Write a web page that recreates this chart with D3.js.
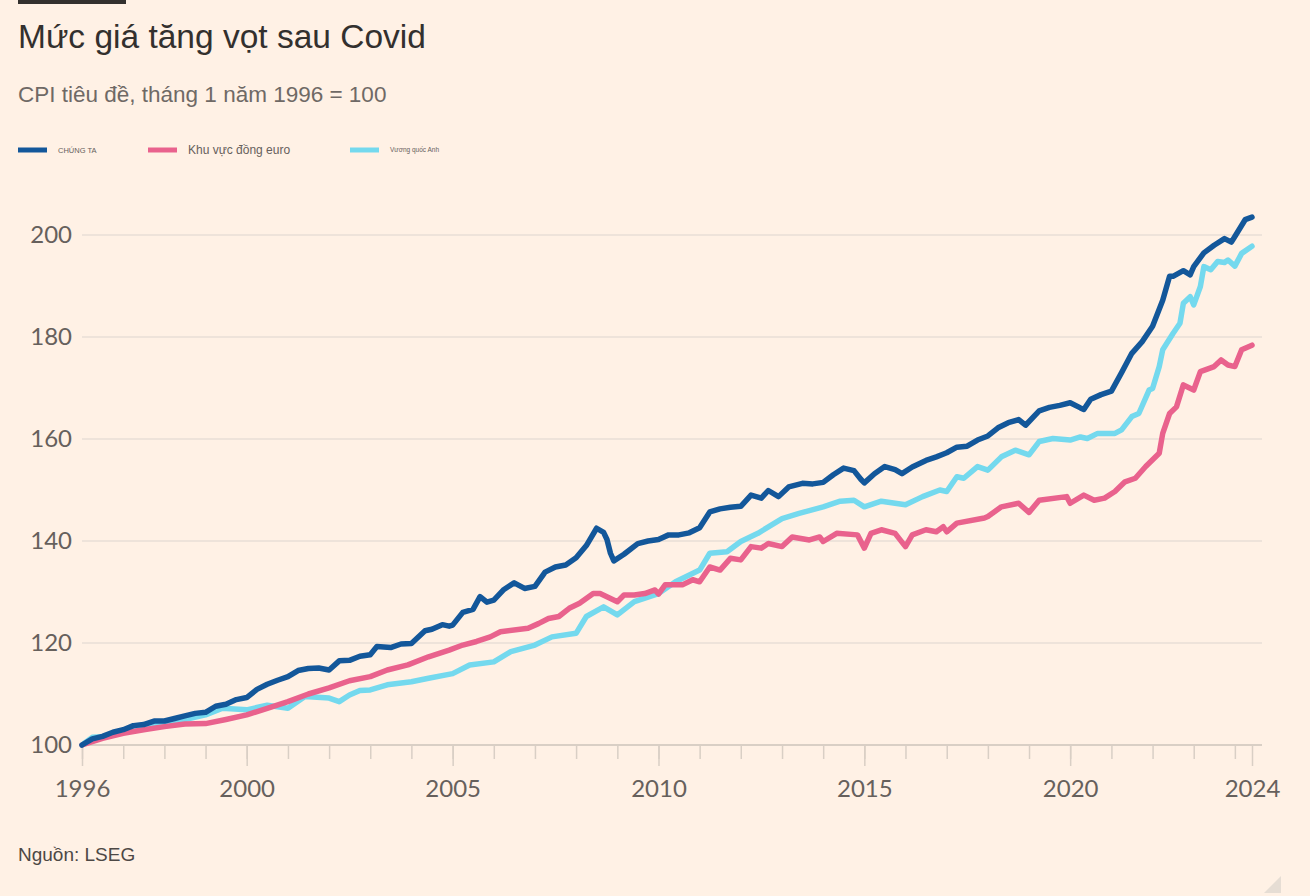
<!DOCTYPE html>
<html>
<head>
<meta charset="utf-8">
<script src="https://cdn.jsdelivr.net/npm/d3@7"></script>
<style>
  html, body { margin: 0; padding: 0; background: #fff1e5; }
  svg { display: block; }
</style>
</head>
<body>
<svg id="chart" width="1310" height="896"></svg>
<script>
// ---- Data ----
const seriesNames = ["CHÚNG TA", "Khu vực đồng euro", "Vương quốc Anh"];

const usDates = ["1996-01","1996-04","1996-07","1996-10","1997-01","1997-04","1997-07","1997-10",
  "1998-01","1998-04","1998-07","1998-10","1999-01","1999-04","1999-07","1999-10",
  "2000-01","2000-04","2000-07","2000-10","2001-01","2001-04","2001-07","2001-10",
  "2002-01","2002-04","2002-07","2002-10","2003-01","2003-03","2003-07","2003-10",
  "2004-01","2004-05","2004-07","2004-10","2004-12","2005-01","2005-04","2005-07","2005-09","2005-11",
  "2006-01","2006-04","2006-07","2006-10","2007-01","2007-04","2007-07","2007-10",
  "2008-01","2008-04","2008-07","2008-09","2008-10","2008-11","2008-12","2009-03","2009-07","2009-10",
  "2010-01","2010-04","2010-07","2010-10","2011-01","2011-04","2011-07","2011-10",
  "2012-01","2012-04","2012-07","2012-09","2012-12","2013-03","2013-07","2013-10",
  "2014-01","2014-04","2014-07","2014-10","2014-12","2015-01","2015-04","2015-07","2015-10","2015-12",
  "2016-03","2016-07","2016-10","2017-01","2017-04","2017-07","2017-10",
  "2018-01","2018-04","2018-07","2018-10","2018-12","2019-04","2019-07","2019-10",
  "2020-01","2020-04","2020-05","2020-07","2020-10","2021-01","2021-04","2021-07","2021-10",
  "2022-01","2022-04","2022-06","2022-07","2022-10","2022-12","2023-01","2023-04","2023-07","2023-10","2023-12",
  "2024-01","2024-04","2024-06"];
const usCpi = [100,101.2,101.7,102.5,103.0,103.8,104.0,104.7,
  104.7,105.2,105.7,106.2,106.4,107.6,108.0,108.9,
  109.3,110.9,111.9,112.7,113.4,114.6,115.0,115.1,
  114.7,116.5,116.6,117.4,117.7,119.3,119.1,119.8,
  119.9,122.4,122.7,123.6,123.3,123.5,126.0,126.6,129.1,128.0,
  128.4,130.5,131.8,130.7,131.1,133.9,134.9,135.3,
  136.7,139.1,142.5,141.7,140.3,137.6,136.1,137.4,139.5,140.0,
  140.3,141.2,141.2,141.6,142.6,145.7,146.3,146.6,
  146.8,149.0,148.4,149.9,148.7,150.6,151.3,151.2,
  151.5,153.0,154.3,153.8,152.1,151.4,153.2,154.6,154.0,153.2,
  154.5,155.8,156.5,157.3,158.4,158.6,159.8,
  160.6,162.2,163.2,163.8,162.7,165.5,166.2,166.6,
  167.1,166.1,165.8,167.8,168.7,169.4,173.0,176.8,179.1,
  182.1,187.2,191.9,191.9,193.0,192.2,193.8,196.5,198.0,199.3,198.6,
  199.7,203.0,203.5];

const euroDates = ["1996-01","1996-07","1997-01","1997-07","1998-01","1998-07","1999-01","1999-07",
  "2000-01","2000-07","2001-01","2001-07","2002-01","2002-07","2003-01","2003-06","2003-12",
  "2004-06","2004-12","2005-04","2005-08","2005-12","2006-03","2006-11","2007-02","2007-05","2007-08","2007-11",
  "2008-02","2008-06","2008-08","2009-01","2009-03","2009-06","2009-09","2009-12",
  "2010-01","2010-03","2010-08","2010-11","2011-01","2011-04","2011-07","2011-10",
  "2012-01","2012-04","2012-07","2012-09","2013-01","2013-04","2013-09","2013-12",
  "2014-01","2014-05","2014-11","2015-01","2015-03","2015-06","2015-10","2016-01","2016-03","2016-07","2016-10","2016-12",
  "2017-01","2017-04","2017-12","2018-01","2018-05","2018-10","2019-01","2019-04","2019-12",
  "2020-01","2020-05","2020-08","2020-11","2021-02","2021-05","2021-08","2021-11",
  "2022-03","2022-04","2022-06","2022-08","2022-10","2023-01","2023-03","2023-07","2023-09","2023-11",
  "2024-01","2024-03","2024-06"];
const euroCpi = [100,101.3,102.3,103.0,103.6,104.1,104.2,105.0,
  105.9,107.2,108.5,110.0,111.2,112.6,113.4,114.7,115.7,
  117.3,118.6,119.6,120.3,121.2,122.2,122.9,123.8,124.8,125.2,126.8,
  127.8,129.7,129.7,128.1,129.4,129.4,129.7,130.4,
  129.6,131.4,131.4,132.4,132.0,134.9,134.3,136.6,
  136.3,138.9,138.6,139.5,138.9,140.8,140.2,140.8,
  139.9,141.5,141.2,138.6,141.5,142.2,141.5,138.9,141.2,142.2,141.8,142.8,
  141.8,143.5,144.5,144.8,146.7,147.4,145.6,148.0,148.7,
  147.4,149.0,148.0,148.4,149.7,151.6,152.3,154.6,
  157.2,161.1,165.0,166.3,170.6,169.6,173.2,174.2,175.5,174.5,
  174.2,177.5,178.4];

const ukDates = ["1996-01","1996-04","1996-07","1997-01","1997-07","1998-01","1998-07","1999-01","1999-06",
  "2000-01","2000-07","2001-01","2001-06","2002-01","2002-04","2002-07","2002-10","2003-01","2003-06",
  "2004-01","2004-06","2005-01","2005-06","2006-01","2006-06","2007-01","2007-06",
  "2008-01","2008-04","2008-09","2009-01","2009-06","2010-01","2010-06","2011-01","2011-04","2011-09",
  "2012-01","2012-06","2013-01","2013-06","2014-01","2014-06","2014-10","2015-01","2015-06",
  "2016-01","2016-06","2016-11","2017-01","2017-04","2017-06","2017-10","2018-01","2018-05","2018-09",
  "2019-01","2019-04","2019-08","2020-01","2020-04","2020-06","2020-09","2020-12","2021-02","2021-04",
  "2021-07","2021-09","2021-12","2022-01","2022-03","2022-04","2022-07","2022-09","2022-10","2022-12",
  "2023-01","2023-03","2023-04","2023-06","2023-08","2023-10","2023-11","2024-01","2024-03","2024-06"];
const ukCpi = [100,101.5,101.6,102.6,103.5,104.2,105.0,105.9,107.2,
  106.9,107.8,107.2,109.5,109.2,108.5,109.8,110.7,110.8,111.8,
  112.4,113.1,114.0,115.7,116.3,118.3,119.6,121.2,
  121.9,125.2,127.1,125.5,128.1,129.7,132.0,134.3,137.6,137.9,
  139.9,141.5,144.4,145.4,146.7,147.8,148.0,146.7,147.8,
  147.1,148.7,150.0,149.7,152.6,152.3,154.6,153.9,156.5,157.8,
  156.9,159.5,160.1,159.8,160.4,160.1,161.1,161.1,161.1,161.8,
  164.4,165.0,169.6,169.9,174.2,177.5,180.7,182.7,186.6,187.9,
  186.3,189.9,193.8,193.2,194.8,194.6,195.1,193.9,196.4,197.8];

const yTicks = [100, 120, 140, 160, 180, 200];
const majorYears = [1996, 2000, 2005, 2010, 2015, 2020];
const endLabel = "2024";

// ---- Setup ----
const parse = d3.timeParse("%Y-%m");
const toPoints = (dates, vals) => dates.map((d, i) => ({ date: parse(d), value: vals[i] }));
const series = [
  { name: seriesNames[2], color: "#74d9ee", pts: toPoints(ukDates, ukCpi) },
  { name: seriesNames[1], color: "#e9628d", pts: toPoints(euroDates, euroCpi) },
  { name: seriesNames[0], color: "#13579a", pts: toPoints(usDates, usCpi) }
];

const svg = d3.select("#chart");
svg.append("rect").attr("width", 1310).attr("height", 896).attr("fill", "#fff1e5");

const left = 82, right = 1252, gridRight = 1262;
const startDate = parse(usDates[0]);
const endDate = parse(usDates[usDates.length - 1]);
const x = d3.scaleTime().domain([startDate, endDate]).range([left, right]);
const y = d3.scaleLinear().domain([100, 200]).range([745, 235]);

// Header
svg.append("rect").attr("x", 18).attr("y", 0).attr("width", 108).attr("height", 4).attr("fill", "#33302e");
svg.append("text").attr("x", 18).attr("y", 48)
  .attr("font-family", "Liberation Sans, Arial, sans-serif").attr("font-size", 33.5)
  .attr("fill", "#33302e").text("Mức giá tăng vọt sau Covid");
svg.append("text").attr("x", 18).attr("y", 102)
  .attr("font-family", "Liberation Sans, Arial, sans-serif").attr("font-size", 22.5)
  .attr("fill", "#6f6965").text("CPI tiêu đề, tháng 1 năm 1996 = 100");

// Legend
const legend = [
  { x: 18, color: "#13579a", label: seriesNames[0], size: 7.5 },
  { x: 148, color: "#e9628d", label: seriesNames[1], size: 12 },
  { x: 350, color: "#74d9ee", label: seriesNames[2], size: 6.5 }
];
legend.forEach(l => {
  svg.append("line").attr("x1", l.x).attr("x2", l.x + 29).attr("y1", 150).attr("y2", 150)
    .attr("stroke", l.color).attr("stroke-width", 5);
  svg.append("text").attr("x", l.x + 40).attr("y", 150).attr("dy", "0.35em")
    .attr("font-family", "Liberation Sans, Arial, sans-serif").attr("font-size", l.size)
    .attr("fill", "#66605c").text(l.label);
});

// Gridlines
svg.append("g").selectAll("line").data(yTicks.filter(t => t > 100)).join("line")
  .attr("x1", left).attr("x2", gridRight)
  .attr("y1", d => y(d)).attr("y2", d => y(d))
  .attr("stroke", "#e9ded6").attr("stroke-width", 1.5);

// Y axis labels
const yAxis = d3.axisLeft(y).tickValues(yTicks).tickSize(0).tickPadding(10).tickFormat(d3.format("d"));
const gy = svg.append("g").attr("transform", `translate(${left},0)`).call(yAxis);
gy.select(".domain").remove();
gy.selectAll("text").attr("font-family", "Lato, sans-serif").attr("font-size", 24).attr("fill", "#66605c");

// X axis baseline
svg.append("line").attr("x1", left).attr("x2", gridRight).attr("y1", y(100)).attr("y2", y(100))
  .attr("stroke", "#d9cfc5").attr("stroke-width", 2);

// Minor ticks (yearly)
const years = d3.range(1996, 2025).map(yr => new Date(yr, 0, 1));
const minorAxis = d3.axisBottom(x).tickValues(years).tickSize(14).tickFormat("");
const gMinor = svg.append("g").attr("transform", `translate(0,${y(100)})`).call(minorAxis);
gMinor.select(".domain").remove();
gMinor.selectAll("line").attr("stroke", "#d9cfc5").attr("stroke-width", 1.5);

// Major ticks with labels
const majorDates = majorYears.map(yr => new Date(yr, 0, 1)).concat([endDate]);
const majorAxis = d3.axisBottom(x).tickValues(majorDates).tickSize(21).tickPadding(14)
  .tickFormat(d => (+d === +endDate ? endLabel : d3.timeFormat("%Y")(d)));
const gMajor = svg.append("g").attr("transform", `translate(0,${y(100)})`).call(majorAxis);
gMajor.select(".domain").remove();
gMajor.selectAll("line").attr("stroke", "#d9cfc5").attr("stroke-width", 1.5);
gMajor.selectAll("text").attr("font-family", "Lato, sans-serif").attr("font-size", 24).attr("fill", "#66605c");

// Lines
const line = d3.line().x(d => x(d.date)).y(d => y(d.value));
svg.append("g").selectAll("path").data(series).join("path")
  .attr("d", d => line(d.pts))
  .attr("fill", "none").attr("stroke", d => d.color).attr("stroke-width", 5.5)
  .attr("stroke-linejoin", "round").attr("stroke-linecap", "round");

// Source
svg.append("text").attr("x", 18).attr("y", 861)
  .attr("font-family", "Liberation Sans, Arial, sans-serif").attr("font-size", 19)
  .attr("fill", "#4d4845").text("Nguồn: LSEG");

// Corner mark
svg.append("path").attr("d", "M1281,876 L1281,893 L1264,893 Z").attr("fill", "#e6ddd4");
</script>
</body>
</html>
